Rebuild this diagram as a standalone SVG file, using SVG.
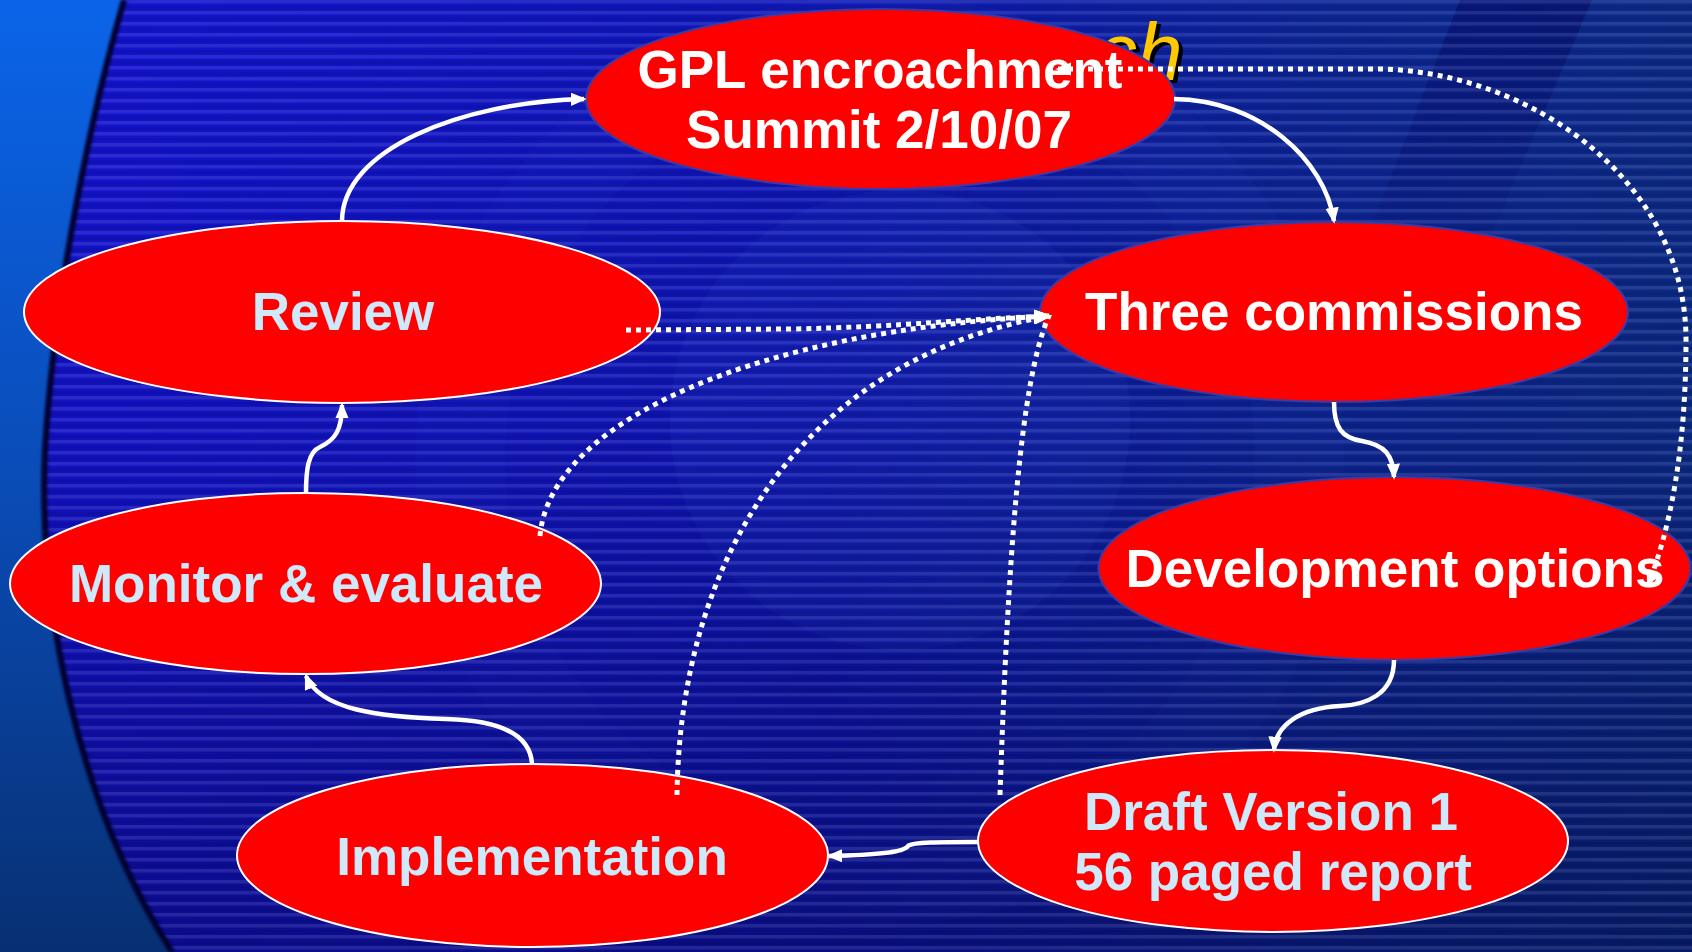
<svg xmlns="http://www.w3.org/2000/svg" width="1692" height="952" viewBox="0 0 1692 952">
  <defs>
    <style>
      .node { fill: #ff0000; }
      .edge-w { stroke: #ffffff; stroke-width: 2; }
      .edge-b { stroke: #3a3aa8; stroke-width: 2; }
      .lbl { font-family: "Liberation Sans", Arial, sans-serif; font-weight: bold; font-size: 53px; text-anchor: middle; }
      .w { fill: #ffffff; }
      .lb { fill: #cfe8fa; }
      .solid { fill: none; stroke: #ffffff; stroke-width: 4.5; marker-end: url(#ah); }
      .dot { fill: none; stroke: #ffffff; stroke-width: 5; stroke-dasharray: 5 5; }
      .yel { font-family: "Liberation Sans", Arial, sans-serif; font-style: italic; font-size: 82px; }
    </style>
    <linearGradient id="leftBg" x1="0" y1="0" x2="0" y2="952" gradientUnits="userSpaceOnUse">
      <stop offset="0" stop-color="#0b64e8"/>
      <stop offset="0.5" stop-color="#0a4cb8"/>
      <stop offset="1" stop-color="#073072"/>
    </linearGradient>
    <linearGradient id="mainBg" x1="124" y1="0" x2="1692" y2="0" gradientUnits="userSpaceOnUse">
      <stop offset="0" stop-color="#1313ce"/>
      <stop offset="0.45" stop-color="#0e16b4"/>
      <stop offset="0.75" stop-color="#0c2496"/>
      <stop offset="1" stop-color="#0b2a86"/>
    </linearGradient>
    <linearGradient id="shade" x1="0" y1="0" x2="0" y2="952" gradientUnits="userSpaceOnUse">
      <stop offset="0" stop-color="#000030" stop-opacity="0"/>
      <stop offset="0.45" stop-color="#000030" stop-opacity="0.08"/>
      <stop offset="1" stop-color="#000030" stop-opacity="0.38"/>
    </linearGradient>
    <linearGradient id="band" x1="0" y1="0" x2="0" y2="280" gradientUnits="userSpaceOnUse">
      <stop offset="0" stop-color="#05086a" stop-opacity="0.55"/>
      <stop offset="1" stop-color="#05086a" stop-opacity="0"/>
    </linearGradient>
    <pattern id="stripes" x="0" y="0" width="20" height="11" patternUnits="userSpaceOnUse">
      <rect x="0" y="0" width="20" height="3.5" fill="#ffffff" fill-opacity="0.1"/>
      <rect x="0" y="6" width="20" height="3.5" fill="#000000" fill-opacity="0.09"/>
    </pattern>
    <clipPath id="mainClip">
      <path d="M124,0 L1692,0 L1692,952 L172,952 C75,800 38,600 45,450 C55,280 95,100 124,0 Z"/>
    </clipPath>
    <filter id="soft" x="-0.1" y="-0.1" width="1.2" height="1.2">
      <feGaussianBlur stdDeviation="1.5"/>
    </filter>
    <marker id="ah" viewBox="0 0 12 10" refX="10" refY="5" markerWidth="16" markerHeight="13.5" markerUnits="userSpaceOnUse" orient="auto">
      <path d="M0,0 L12,5 L0,10 Z" fill="#ffffff"/>
    </marker>
    <marker id="ahd" viewBox="0 0 12 10" refX="10" refY="5" markerWidth="18" markerHeight="15" markerUnits="userSpaceOnUse" orient="-4">
      <path d="M0,0 L12,5 L0,10 Z" fill="#ffffff"/>
    </marker>
    <marker id="ahs" viewBox="0 0 12 10" refX="10" refY="5" markerWidth="16" markerHeight="13.5" markerUnits="userSpaceOnUse" orient="auto-start-reverse">
      <path d="M0,0 L12,5 L0,10 Z" fill="#ffffff"/>
    </marker>
  </defs>

  <g id="background">
    <rect x="0" y="0" width="1692" height="952" fill="url(#leftBg)"/>
    <g clip-path="url(#mainClip)">
      <rect x="0" y="0" width="1692" height="952" fill="url(#mainBg)"/>
      <circle cx="900" cy="420" r="230" fill="#3a66e6" fill-opacity="0.1"/>
      <circle cx="880" cy="460" r="420" fill="none" stroke="#3a66e6" stroke-opacity="0.05" stroke-width="90"/>
      <polygon points="1460,0 1592,0 1472,280 1350,280" fill="url(#band)"/>
      <rect x="0" y="0" width="1692" height="952" fill="url(#shade)"/>
      <rect x="0" y="0" width="1692" height="952" fill="url(#stripes)"/>
    </g>
    <path d="M124,0 C95,100 55,280 45,450 C38,600 75,800 172,952" fill="none" stroke="#02062e" stroke-width="6" filter="url(#soft)"/>
  </g>

  <g id="title-fragment">
    <text class="yel" x="1100" y="83" fill="#000000">ch</text>
    <text class="yel" x="1096" y="80" fill="#ffc800">ch</text>
  </g>

  <g id="node-gpl">
    <ellipse class="node edge-b" cx="880.5" cy="99" rx="294.5" ry="90"/>
    <text class="lbl w" x="880" y="88">GPL encroachment</text>
    <text class="lbl w" x="879" y="148">Summit 2/10/07</text>
  </g>
  <g id="node-review">
    <ellipse class="node edge-w" cx="342" cy="312" rx="318" ry="91"/>
    <text class="lbl lb" x="343" y="330">Review</text>
  </g>
  <g id="node-three">
    <ellipse class="node edge-b" cx="1334" cy="312" rx="294" ry="90"/>
    <text class="lbl w" x="1334" y="330">Three commissions</text>
  </g>
  <g id="node-development">
    <ellipse class="node edge-b" cx="1394.5" cy="568.5" rx="296" ry="91.5"/>
    <text class="lbl w" x="1395" y="587">Development options</text>
  </g>
  <g id="node-monitor">
    <ellipse class="node edge-w" cx="305.5" cy="583.5" rx="295.5" ry="90.5"/>
    <text class="lbl lb" x="306" y="602">Monitor &amp; evaluate</text>
  </g>
  <g id="node-implementation">
    <ellipse class="node edge-w" cx="532.5" cy="855.5" rx="295.5" ry="91.5"/>
    <text class="lbl lb" x="532" y="875">Implementation</text>
  </g>
  <g id="node-draft">
    <ellipse class="node edge-w" cx="1273" cy="841" rx="295" ry="91"/>
    <text class="lbl lb" x="1271" y="830">Draft Version 1</text>
    <text class="lbl lb" x="1273" y="890">56 paged report</text>
  </g>

  <g id="connectors">
    <path class="solid" d="M342,221 C342,150 460,102 584,99"/>
    <path class="solid" d="M1174,99 C1260,100 1325,160 1334,221"/>
    <path class="solid" d="M1334,402 C1334,428 1342,438 1362,441 C1385,445 1393,455 1394,477"/>
    <path class="solid" d="M1394,660 C1394,695 1365,705 1340,706 C1300,708 1276,725 1274,750"/>
    <path class="solid" d="M979,842 C940,842 912,842 908,846 C904,852 880,855 829,856"/>
    <path class="solid" d="M532,764 C530,730 490,720 446,719 C380,717 320,710 306,676"/>
    <path class="solid" d="M306,493 C306,470 308,452 320,447 C335,440 342,430 342,405"/>

    <path class="dot" marker-end="url(#ahd)" d="M626,330 L790,329 C900,327 980,318 1049,316"/>
    <path class="dot" marker-end="url(#ahd)" d="M540,536 C550,420 760,330 1049,316"/>
    <path class="dot" marker-end="url(#ahd)" d="M677,795 C680,560 800,360 1049,316"/>
    <path class="dot" marker-end="url(#ahd)" d="M1000,795 C1008,560 1020,380 1049,316"/>
    <path class="dot" marker-start="url(#ahs)" marker-end="url(#ahs)" d="M1058,69 L1380,69 C1530,72 1686,180 1686,340 C1686,450 1670,530 1648,585"/>
  </g>
</svg>
